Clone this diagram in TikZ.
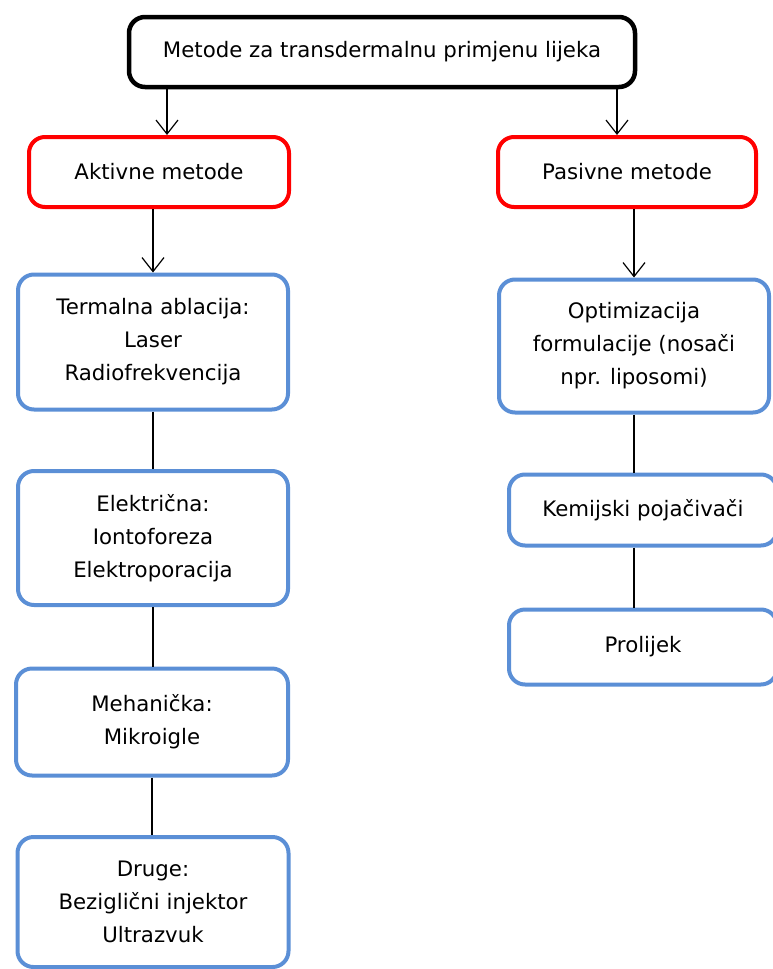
\documentclass[tikz,border=0pt]{standalone}
\usepackage{fontspec}
\setmainfont{DejaVu Sans}
\usetikzlibrary{arrows.meta}
\definecolor{boxblue}{RGB}{91,143,214}
\begin{document}
\begin{tikzpicture}[x = 1pt, y = -1pt,
    box/.style = {draw, rounded corners = 16pt, align = center, font = \fontsize{21.3}{33}\selectfont, line width = 4pt},
    mainbox/.style = {box, draw = black, line width = 4.5pt},
    catbox/.style = {box, draw = red},
    subbox/.style = {box, draw = boxblue},
    arr/.style = {-{Straight Barb[length = 14pt, width = 22pt]}, line width = 1.2pt},
    link/.style = {line width = 1.2pt}]
    \useasboundingbox (0,0) rectangle (772,969);
    \node [mainbox, minimum width = 506pt, minimum height = 70pt] (top) at (382,52) {Metode za transdermalnu primjenu lijeka};
    \node [catbox, minimum width = 260pt, minimum height = 70pt] (aktiv) at (159,172) {Aktivne metode};
    \node [catbox, minimum width = 258pt, minimum height = 70pt] (pasiv) at (627,172) {Pasivne metode};
    \node [subbox, minimum width = 270pt, minimum height = 135pt] (term) at (153,342) {Termalna ablacija:\\Laser\\Radiofrekvencija};
    \node [subbox, minimum width = 270pt, minimum height = 134pt] (elek) at (153,538) {Električna:\\Iontoforeza\\Elektroporacija};
    \node [subbox, minimum width = 272pt, minimum height = 107pt] (meh) at (152,722) {Mehanička:\\Mikroigle};
    \node [subbox, minimum width = 271pt, minimum height = 130pt] (druge) at (153,902) {Druge:\\Bezigli\v{c}ni injektor\\Ultrazvuk};
    \node [subbox, minimum width = 270pt, minimum height = 133pt] (optim) at (634,346) {Optimizacija\\formulacije (nosači\\npr. liposomi)};
    \node [subbox, minimum width = 268pt, minimum height = 71pt] (kemij) at (643,510) {Kemijski pojačivači};
    \node [subbox, minimum width = 268pt, minimum height = 75pt] (prol) at (643,647) {Prolijek};
    % arrows
    \draw [arr] ([xshift = 8pt]aktiv.north |- top.south) -- ([xshift = 8pt]aktiv.north);
    \draw [arr] ([xshift = -10pt]pasiv.north |- top.south) -- ([xshift = -10pt]pasiv.north);
    \draw [arr] (aktiv.south -| term.north) -- (term.north);
    \draw [arr] (pasiv.south -| optim.north) -- (optim.north);
    % links
    \draw [link] (term.south) -- (term.south |- elek.north);
    \draw [link] (elek.south) -- (elek.south |- meh.north);
    \draw [link] (meh.south) -- (meh.south |- druge.north);
    \draw [link] (optim.south) -- (optim.south |- kemij.north);
    \draw [link] (optim.south |- kemij.south) -- (optim.south |- prol.north);
\end{tikzpicture}
\end{document}
